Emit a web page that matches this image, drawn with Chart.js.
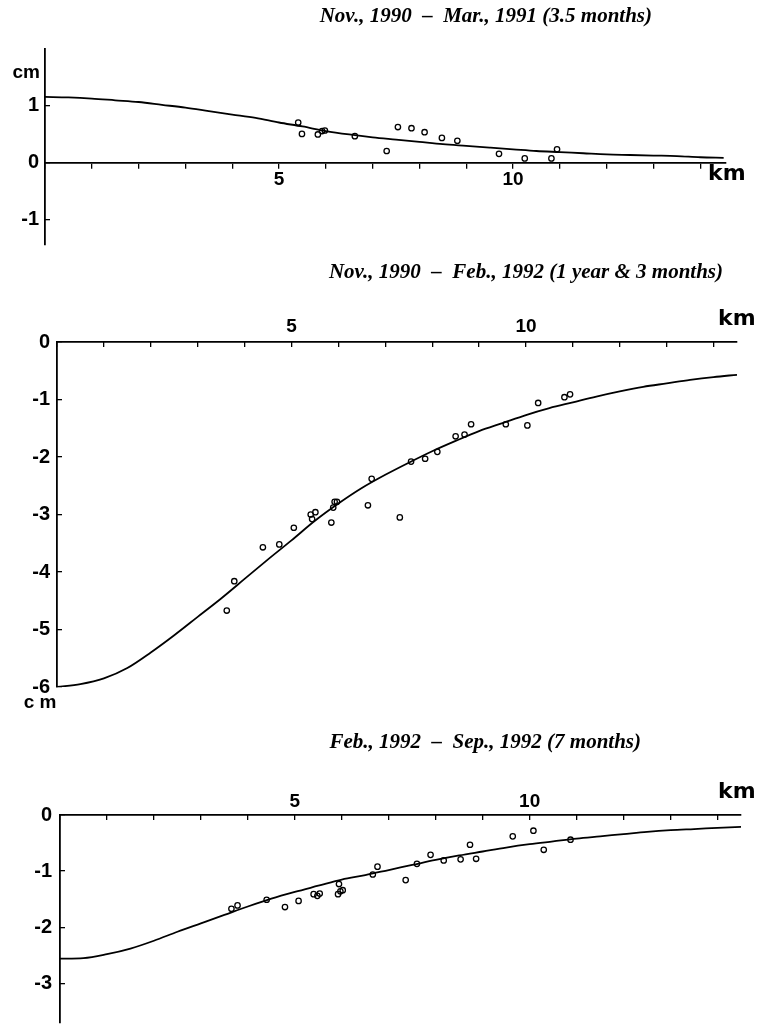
<!DOCTYPE html>
<html>
<head>
<meta charset="utf-8">
<script src="https://cdn.jsdelivr.net/npm/chart.js@4.4.1/dist/chart.umd.min.js"></script>
<style>
  body { margin: 0; background: #fff; }
  #wrap { position: relative; width: 758px; height: 1028px; }
  canvas { position: absolute; left: 0; }
</style>
</head>
<body>
<div id="wrap">
  <canvas id="p1" width="758" height="270" style="top:0px"></canvas>
  <canvas id="p2" width="758" height="450" style="top:262px"></canvas>
  <canvas id="p3" width="758" height="316" style="top:712px"></canvas>
</div>
<script>
// observed stations: distance (km) and vertical change (cm)
const km1 = [5.41, 5.49, 5.83, 5.92, 5.98, 6.62, 7.30, 7.54, 7.83, 8.11, 8.48, 8.81, 9.70, 10.25, 10.82, 10.94];
const cm1 = [0.71, 0.51, 0.50, 0.56, 0.57, 0.47, 0.21, 0.63, 0.61, 0.54, 0.44, 0.39, 0.16, 0.08, 0.08, 0.24];

const km2 = [3.62, 3.78, 4.39, 4.74, 5.05, 5.41, 5.44, 5.51, 5.85, 5.89, 5.92, 5.97, 6.63, 6.71, 7.31, 7.55, 7.85, 8.11, 8.50, 8.69, 8.83, 9.57, 10.03, 10.26, 10.82, 10.94];
const cm2 = [-4.67, -4.16, -3.57, -3.52, -3.23, -3.00, -3.08, -2.96, -3.14, -2.88, -2.78, -2.78, -2.84, -2.38, -3.05, -2.08, -2.03, -1.91, -1.64, -1.61, -1.43, -1.43, -1.45, -1.06, -0.96, -0.91];

const km3 = [3.65, 3.78, 4.40, 4.79, 5.08, 5.40, 5.48, 5.53, 5.92, 5.94, 5.97, 6.02, 6.66, 6.76, 7.36, 7.60, 7.89, 8.17, 8.53, 8.73, 8.86, 9.64, 10.08, 10.30, 10.87];
const cm3 = [-1.67, -1.61, -1.51, -1.64, -1.53, -1.41, -1.44, -1.40, -1.41, -1.23, -1.36, -1.34, -1.06, -0.92, -1.16, -0.87, -0.71, -0.81, -0.79, -0.53, -0.78, -0.38, -0.28, -0.62, -0.44];

// model curves
const curveKm = [0, 0.5, 1, 1.5, 2, 2.5, 3, 3.5, 4, 4.5, 5, 5.5, 6, 6.5, 7, 7.5, 8, 8.5, 9, 9.5, 10, 10.5, 11, 11.5, 12, 12.5, 13, 13.5, 14, 14.5];
const curve1 = [1.16, 1.15, 1.13, 1.10, 1.07, 1.02, 0.97, 0.91, 0.85, 0.79, 0.71, 0.64, 0.56, 0.50, 0.45, 0.41, 0.37, 0.33, 0.30, 0.27, 0.24, 0.21, 0.19, 0.17, 0.15, 0.14, 0.13, 0.12, 0.10, 0.09];
const curve2 = [-6.0, -5.95, -5.85, -5.67, -5.40, -5.10, -4.78, -4.46, -4.12, -3.78, -3.45, -3.11, -2.81, -2.54, -2.31, -2.10, -1.90, -1.72, -1.55, -1.41, -1.27, -1.15, -1.05, -0.95, -0.86, -0.78, -0.72, -0.66, -0.61, -0.57];
const curve3 = [-2.56, -2.55, -2.48, -2.38, -2.24, -2.08, -1.93, -1.78, -1.63, -1.49, -1.37, -1.26, -1.15, -1.07, -0.98, -0.89, -0.80, -0.72, -0.65, -0.58, -0.52, -0.47, -0.42, -0.38, -0.34, -0.30, -0.27, -0.25, -0.23, -0.21];

// ticks
const kmTicks = [0, 1, 2, 3, 4, 5, 6, 7, 8, 9, 10, 11, 12, 13, 14];
const kmLabels = [5, 10];
const yTicks1 = [-1, 0, 1];
const yTicks2 = [-6, -5, -4, -3, -2, -1, 0];
const yTicks3 = [-3, -2, -1, 0];

const titles = [
  'Nov., 1990  \u2013  Mar., 1991 (3.5 months)',
  'Nov., 1990  \u2013  Feb., 1992 (1 year & 3 months)',
  'Feb., 1992  \u2013  Sep., 1992 (7 months)'
];

const titleFont = 'italic bold 21px "Liberation Serif"';
const kmFont = 'bold 22px "DejaVu Sans"';
const cmFont = 'bold 19px "Liberation Sans"';

// plain text labels (titles, units)
const notes = {
  id: 'notes',
  afterDraw(chart, args, opts) {
    const ctx = chart.ctx;
    ctx.save();
    ctx.fillStyle = '#000';
    ctx.textBaseline = 'middle';
    for (const n of opts.items || []) {
      ctx.font = n.font;
      ctx.textAlign = n.align || 'left';
      ctx.fillText(n.text, n.x, n.y);
    }
    ctx.restore();
  }
};

const pts = (xs, ys) => xs.map((x, i) => ({x: x, y: ys[i]}));

function panel(id, o) {
  const topAxis = o.xAt === 'top';
  new Chart(document.getElementById(id), {
    type: 'scatter',
    data: {
      datasets: [{
        data: pts(curveKm, o.curve),
        showLine: true,
        pointRadius: 0,
        borderColor: '#000',
        borderWidth: 1.8,
        cubicInterpolationMode: 'monotone'
      }, {
        data: pts(o.km, o.cm),
        pointRadius: 2.7,
        borderWidth: 1.3,
        borderColor: '#000',
        backgroundColor: 'rgba(0,0,0,0)'
      }]
    },
    options: {
      responsive: false,
      animation: false,
      events: [],
      layout: {padding: o.pad},
      plugins: {
        legend: {display: false},
        tooltip: {enabled: false},
        notes: {items: o.notes}
      },
      scales: {
        x: {
          type: 'linear',
          min: 0,
          max: o.xMax,
          position: topAxis ? 'top' : {y: 0},
          afterBuildTicks: s => { s.ticks = kmTicks.map(v => ({value: v})); },
          afterFit: s => { if (topAxis) s.height = 40; s.paddingLeft = 0; s.paddingRight = 0; },
          grid: {drawOnChartArea: false, color: '#000', lineWidth: 1.3, tickLength: topAxis ? -5 : 5},
          border: {color: '#000', width: 1.8},
          ticks: {
            autoSkip: false, maxRotation: 0, padding: o.xPad, color: '#000',
            font: {family: 'Liberation Sans', weight: 'bold', size: 19},
            callback: v => kmLabels.includes(v) ? String(v) : ''
          }
        },
        y: {
          type: 'linear',
          min: o.yMin,
          max: o.yMax,
          position: 'left',
          afterBuildTicks: s => { s.ticks = o.yTicks.map(v => ({value: v})); },
          afterFit: s => { s.width = o.left; s.paddingTop = 0; s.paddingBottom = 0; },
          grid: {drawOnChartArea: false, color: '#000', lineWidth: 1.3, tickLength: -5},
          border: {color: '#000', width: 1.8},
          ticks: {
            padding: o.yPad, color: '#000',
            font: {family: 'Liberation Sans', weight: 'bold', size: o.yFont},
            callback: v => String(v)
          }
        }
      }
    },
    plugins: [notes]
  });
}

panel('p1', {
  km: km1, cm: cm1, curve: curve1, yTicks: yTicks1,
  yMin: -1.44, yMax: 2.0, xMax: 14.55, left: 45,
  pad: {left: 0, top: 49, right: 32, bottom: 25},
  xAt: 'zero', xPad: 0, yPad: 11, yFont: 20,
  notes: [
    {text: titles[0], x: 652, y: 17, align: 'right', font: titleFont},
    {text: 'cm', x: 40, y: 73, align: 'right', font: cmFont},
    {text: 'km', x: 708, y: 174, font: kmFont}
  ]
});

panel('p2', {
  km: km2, cm: cm2, curve: curve2, yTicks: yTicks2,
  yMin: -6, yMax: 0, xMax: 14.5, left: 57,
  pad: {left: 0, top: 40, right: 21, bottom: 25},
  xAt: 'top', xPad: 9, yPad: 12, yFont: 20,
  notes: [
    {text: titles[1], x: 723, y: 11, align: 'right', font: titleFont},
    {text: 'km', x: 718, y: 57, font: kmFont},
    {text: 'c m', x: 40, y: 441, align: 'center', font: cmFont}
  ]
});

panel('p3', {
  km: km3, cm: cm3, curve: curve3, yTicks: yTicks3,
  yMin: -3.7, yMax: 0, xMax: 14.5, left: 60,
  pad: {left: 0, top: 63, right: 17, bottom: 0},
  xAt: 'top', xPad: 7, yPad: 13, yFont: 20,
  notes: [
    {text: titles[2], x: 641, y: 31, align: 'right', font: titleFont},
    {text: 'km', x: 718, y: 80, font: kmFont}
  ]
});
</script>
</body>
</html>
